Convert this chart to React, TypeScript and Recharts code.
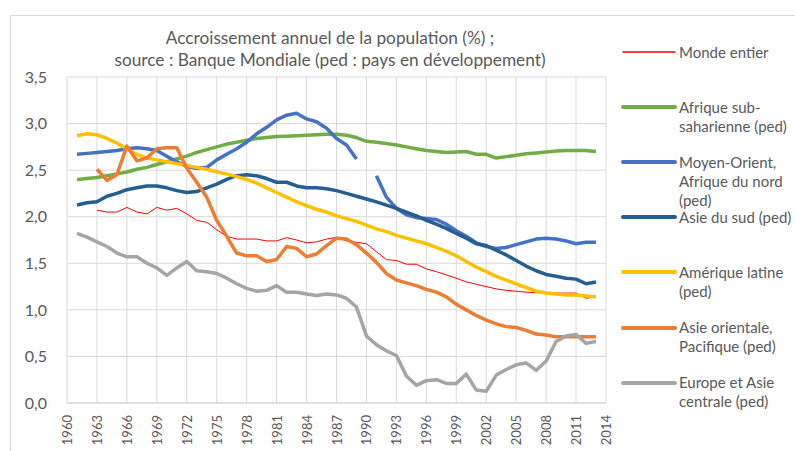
import React from 'react';
import { LineChart, Line, XAxis, YAxis, CartesianGrid, Legend } from 'recharts';

const years = [
  1960, 1961, 1962, 1963, 1964, 1965, 1966, 1967, 1968, 1969,
  1970, 1971, 1972, 1973, 1974, 1975, 1976, 1977, 1978, 1979,
  1980, 1981, 1982, 1983, 1984, 1985, 1986, 1987, 1988, 1989,
  1990, 1991, 1992, 1993, 1994, 1995, 1996, 1997, 1998, 1999,
  2000, 2001, 2002, 2003, 2004, 2005, 2006, 2007, 2008, 2009,
  2010, 2011, 2012, 2013, 2014,
];

const yearTicks = [1960, 1963, 1966, 1969, 1972, 1975, 1978, 1981, 1984, 1987, 1990, 1993, 1996, 1999, 2002, 2005, 2008, 2011, 2014];
const valueTicks = [0, 0.5, 1, 1.5, 2, 2.5, 3, 3.5];

// growth rates, 1960 -> 2014 (null = no value)
const monde = [
  null, null, null, 2.07, 2.05, 2.05, 2.10, 2.05, 2.03, 2.10,
  2.07, 2.09, 2.03, 1.96, 1.94, 1.86, 1.79, 1.76, 1.76, 1.76,
  1.74, 1.74, 1.775, 1.75, 1.72, 1.73, 1.76, 1.78, 1.74, 1.725,
  1.71, 1.625, 1.54, 1.53, 1.49, 1.49, 1.44, 1.41, 1.375, 1.34,
  1.30, 1.275, 1.25, 1.225, 1.21, 1.20, 1.19, 1.185, 1.185, 1.18,
  1.18, 1.18, 1.125, 1.14, null,
];
const afriqueSub = [
  null, 2.40, 2.41, 2.42, 2.44, 2.46, 2.48, 2.51, 2.53, 2.56,
  2.59, 2.62, 2.65, 2.69, 2.72, 2.75, 2.78, 2.80, 2.82, 2.84,
  2.85, 2.86, 2.865, 2.87, 2.875, 2.88, 2.885, 2.885, 2.875, 2.85,
  2.81, 2.80, 2.785, 2.77, 2.75, 2.73, 2.71, 2.70, 2.69, 2.695,
  2.70, 2.67, 2.67, 2.63, 2.645, 2.66, 2.675, 2.685, 2.695, 2.705,
  2.71, 2.71, 2.71, 2.70, null,
];
const moyenOrient = [
  null, 2.67, 2.68, 2.69, 2.70, 2.71, 2.73, 2.74, 2.73, 2.71,
  2.65, 2.59, 2.54, 2.52, 2.53, 2.61, 2.67, 2.73, 2.80, 2.89,
  2.96, 3.04, 3.09, 3.11, 3.05, 3.02, 2.95, 2.84, 2.77, 2.62,
  null, 2.44, 2.21, 2.09, 2.02, 1.99, 1.98, 1.97, 1.92, 1.85,
  1.79, 1.72, 1.68, 1.66, 1.67, 1.70, 1.73, 1.76, 1.77, 1.76,
  1.74, 1.71, 1.725, 1.725, null,
];
const asieSud = [
  null, 2.125, 2.15, 2.16, 2.22, 2.25, 2.29, 2.31, 2.33, 2.33,
  2.31, 2.28, 2.26, 2.27, 2.31, 2.35, 2.40, 2.44, 2.45, 2.44,
  2.41, 2.37, 2.37, 2.33, 2.31, 2.31, 2.30, 2.28, 2.25, 2.22,
  2.19, 2.16, 2.125, 2.09, 2.05, 2.01, 1.96, 1.92, 1.875, 1.82,
  1.77, 1.71, 1.69, 1.64, 1.59, 1.53, 1.47, 1.42, 1.38, 1.36,
  1.34, 1.33, 1.28, 1.30, null,
];
const ameriqueLatine = [
  null, 2.87, 2.89, 2.88, 2.84, 2.79, 2.73, 2.67, 2.63, 2.61,
  2.59, 2.57, 2.55, 2.53, 2.51, 2.48, 2.46, 2.43, 2.40, 2.36,
  2.31, 2.26, 2.21, 2.16, 2.12, 2.08, 2.05, 2.01, 1.98, 1.95,
  1.91, 1.87, 1.84, 1.80, 1.77, 1.74, 1.71, 1.67, 1.63, 1.58,
  1.52, 1.46, 1.41, 1.36, 1.32, 1.28, 1.24, 1.20, 1.18, 1.17,
  1.16, 1.16, 1.15, 1.14, null,
];
const asieOrientale = [
  null, null, null, 2.51, 2.39, 2.45, 2.76, 2.60, 2.63, 2.73,
  2.74, 2.74, 2.52, 2.37, 2.21, 1.96, 1.79, 1.61, 1.58, 1.58,
  1.52, 1.54, 1.68, 1.66, 1.57, 1.60, 1.69, 1.77, 1.76, 1.70,
  1.61, 1.51, 1.39, 1.32, 1.29, 1.26, 1.22, 1.19, 1.14, 1.06,
  1.00, 0.94, 0.89, 0.85, 0.82, 0.81, 0.78, 0.74, 0.73, 0.71,
  0.71, 0.71, 0.71, 0.71, null,
];
const europeAsie = [
  null, 1.82, 1.78, 1.73, 1.68, 1.61, 1.57, 1.57, 1.50, 1.45,
  1.37, 1.45, 1.52, 1.42, 1.41, 1.39, 1.34, 1.28, 1.23, 1.20,
  1.21, 1.26, 1.19, 1.19, 1.17, 1.155, 1.17, 1.16, 1.125, 1.03,
  0.72, 0.625, 0.56, 0.51, 0.29, 0.19, 0.24, 0.25, 0.21, 0.21,
  0.31, 0.14, 0.125, 0.30, 0.36, 0.41, 0.43, 0.35, 0.45, 0.66,
  0.72, 0.735, 0.64, 0.66, null,
];

const series = [
  { key: 'monde', name: 'Monde entier', lines: ['Monde entier'], color: '#FF0000', width: 1, values: monde },
  { key: 'afriqueSub', name: 'Afrique sub-saharienne (ped)', lines: ['Afrique sub-', 'saharienne (ped)'], color: '#70AD47', width: 3.5, values: afriqueSub },
  { key: 'moyenOrient', name: 'Moyen-Orient, Afrique du nord (ped)', lines: ['Moyen-Orient,', 'Afrique du nord', '(ped)'], color: '#4472C4', width: 3.5, values: moyenOrient },
  { key: 'asieSud', name: 'Asie du sud (ped)', lines: ['Asie du sud (ped)'], color: '#255E91', width: 3.5, values: asieSud },
  { key: 'ameriqueLatine', name: 'Amérique latine (ped)', lines: ['Amérique latine', '(ped)'], color: '#FFC000', width: 3.5, values: ameriqueLatine },
  { key: 'asieOrientale', name: 'Asie orientale, Pacifique (ped)', lines: ['Asie orientale,', 'Pacifique (ped)'], color: '#ED7D31', width: 3.5, values: asieOrientale },
  { key: 'europeAsie', name: 'Europe et Asie centrale (ped)', lines: ['Europe et Asie', 'centrale (ped)'], color: '#A5A5A5', width: 3.5, values: europeAsie },
];

const data = years.map((year, i) => {
  const row: any = { year };
  series.forEach((s) => { row[s.key] = s.values[i]; });
  return row;
});

const textColor = '#595959';
const font = 'Lato, "Open Sans", sans-serif';

const YearTick = (props: any) => {
  const { x, y, payload } = props;
  const ty = y + 4;
  return (
    <text x={x} y={ty} transform={`rotate(-90 ${x} ${ty})`} textAnchor="end" dominantBaseline="central"
      fill={textColor} fontSize={13} fontFamily={font}>
      {payload.value}
    </text>
  );
};

const renderLegend = () => (
  <div style={{ position: 'relative', width: 180, height: 400, fontFamily: font, fontSize: 15, color: textColor }}>
    {series.map((s, i) => (
      <div key={s.key} style={{ position: 'absolute', left: 0, top: i * 55.1 }}>
        <svg width={56} height={6} style={{ position: 'absolute', left: 0, top: 10 }}>
          <line x1={2} x2={54} y1={3} y2={3} stroke={s.color} strokeWidth={s.width === 1 ? 1.5 : 4} strokeLinecap="round" />
        </svg>
        {s.lines.map((t, j) => (
          <div key={j} style={{ position: 'absolute', left: 58, top: j * 19 + 4.5, whiteSpace: 'nowrap', lineHeight: '17px' }}>{t}</div>
        ))}
      </div>
    ))}
  </div>
);

const App = () => {
  return (
    <div style={{ position: 'absolute', left: 0, top: 0, width: 795, height: 451, background: '#fff', overflow: 'hidden' }}>
      <div style={{ position: 'absolute', left: 10, top: 15, width: 800, height: 460, border: '1px solid #d9d9d9' }} />
      <div style={{ position: 'absolute', left: 0, width: 660, top: 27, textAlign: 'center', fontFamily: font, fontSize: 17.3, color: textColor, lineHeight: '22px' }}>
        <div>Accroissement annuel de la population (%) ;</div>
        <div>source : Banque Mondiale (ped : pays en développement)</div>
      </div>
      <LineChart width={795} height={451} data={data} margin={{ top: 77, right: 189, bottom: 0, left: 0 }}
        style={{ position: 'absolute', left: 0, top: 0 }}>
        <CartesianGrid stroke="#d9d9d9" strokeWidth={1} />
        <XAxis dataKey="year" type="number" domain={[1960, 2014]} ticks={yearTicks} interval={0}
          height={48} tickLine={false} axisLine={{ stroke: '#d9d9d9', strokeWidth: 1.5 }} tick={<YearTick />} tickMargin={2} />
        <YAxis type="number" domain={[0, 3.5]} ticks={valueTicks} width={67} tickLine={false} axisLine={false}
          tickMargin={14} tick={{ fill: textColor, fontSize: 16, fontFamily: font }}
          tickFormatter={(v: number) => v.toFixed(1).replace('.', ',')} />
        <Legend layout="horizontal" verticalAlign="middle" align="center" content={renderLegend}
          wrapperStyle={{ position: 'absolute', left: 621, top: 39, width: 180, height: 400 }} />
        {series.map((s) => (
          <Line key={s.key} type="linear" dataKey={s.key} name={s.name} stroke={s.color} strokeWidth={s.width}
            dot={false} activeDot={false} connectNulls={false} isAnimationActive={false} strokeLinejoin="round" />
        ))}
      </LineChart>
    </div>
  );
};

export default App;
